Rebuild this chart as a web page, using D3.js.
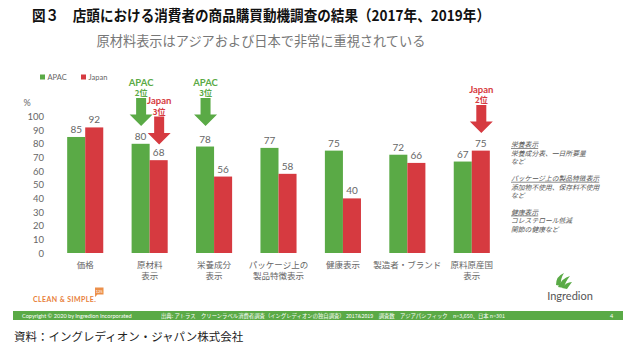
<!DOCTYPE html>
<html><head><meta charset="utf-8">
<script src="https://cdn.jsdelivr.net/npm/d3@7"></script>
<style>
body{margin:0;background:#fff;}
svg{display:block;font-family:"Noto Sans CJK JP","Noto Sans",sans-serif;}
</style></head>
<body>
<svg id="c" width="640" height="350"></svg>
<script>
const categories = ["価格", "原材料\n表示", "栄養成分\n表示", "パッケージ上の\n製品特徴表示", "健康表示", "製造者・ブランド", "原料原産国\n表示"];
const seriesNames = ["APAC", "Japan"];
const apac = [85, 80, 78, 77, 75, 72, 67];
const japan = [92, 68, 56, 58, 40, 66, 75];
const yTicks = [0, 10, 20, 30, 40, 50, 60, 70, 80, 90, 100];
const annotations = [
  {cat: 1, series: "APAC", l1: "APAC", l2: "2位"},
  {cat: 1, series: "Japan", l1: "Japan", l2: "3位"},
  {cat: 2, series: "APAC", l1: "APAC", l2: "3位"},
  {cat: 6, series: "Japan", l1: "Japan", l2: "2位"}
];
const notes = [
  ["栄養表示", "栄養成分表、一日所要量", "など"],
  ["パッケージ上の製品特徴表示", "添加物不使用、保存料不使用", "など"],
  ["健康表示", "コレステロール低減", "関節の健康など"]
];
const titleText = "図３　店頭における消費者の商品購買動機調査の結果（2017年、2019年）";
const subtitleText = "原材料表示はアジアおよび日本で非常に重視されている";
const sourceText = "資料：イングレディオン・ジャパン株式会社";
const footLeft = "Copyright © 2020 by Ingredion Incorporated";
const footMid = "出典: アトラス　クリーンラベル消費者調査（イングレディオンの独自調査） 2017&2019　調査数　アジアパシフィック　n=3,650、日本 n=301";

const GREEN = "#5aaa46", RED = "#d63a40", GREY = "#666";
const colors = {APAC: GREEN, Japan: RED};
const svg = d3.select("#c");

// titles
svg.append("text").attr("x", 32).attr("y", 21)
  .attr("font-size", 15).attr("font-weight", "bold").attr("fill", "#111")
  .attr("textLength", 458).attr("lengthAdjust", "spacingAndGlyphs").text(titleText);
svg.append("text").attr("x", 261).attr("y", 46).attr("text-anchor", "middle")
  .attr("font-size", 13.2).attr("fill", "#777").text(subtitleText);

const x0 = d3.scaleBand().domain(d3.range(categories.length)).range([53, 504]).paddingInner(0.44).paddingOuter(0.22);
const x1 = d3.scaleBand().domain(seriesNames).range([0, x0.bandwidth()]);
const y = d3.scaleLinear().domain([0, 100]).range([253, 116.5]);

// y axis
const yAxis = d3.axisLeft(y).tickValues(yTicks).tickSize(0).tickPadding(0);
const ga = svg.append("g").attr("transform", "translate(44,0)").call(yAxis);
ga.select(".domain").remove();
ga.selectAll("text").attr("font-family", "Lato, 'Noto Sans', sans-serif").attr("font-size", 9.5).attr("fill", GREY);
svg.append("text").attr("x", 27).attr("y", 106).attr("text-anchor", "middle")
  .attr("font-size", 9).attr("fill", GREY).attr("font-family", "Lato, sans-serif").text("%");

// bars
const data = categories.map((c, i) => ({i, vals: [{s: "APAC", v: apac[i]}, {s: "Japan", v: japan[i]}]}));
const g = svg.append("g");
const grp = g.selectAll("g.grp").data(data).join("g").attr("transform", d => `translate(${x0(d.i)},0)`);
grp.selectAll("rect").data(d => d.vals).join("rect")
  .attr("x", d => x1(d.s)).attr("width", x1.bandwidth())
  .attr("y", d => y(d.v)).attr("height", d => y(0) - y(d.v))
  .attr("fill", d => colors[d.s]);
grp.selectAll("text.val").data(d => d.vals).join("text").attr("class", "val")
  .attr("x", d => x1(d.s) + x1.bandwidth() / 2).attr("y", d => y(d.v) - 4)
  .attr("text-anchor", "middle").attr("font-size", 10).attr("fill", GREY)
  .attr("font-family", "Lato, 'Noto Sans', sans-serif").text(d => d.v);

// category labels
categories.forEach((c, i) => {
  const t = svg.append("text").attr("x", x0(i) + x0.bandwidth() / 2).attr("y", 268)
    .attr("text-anchor", "middle").attr("font-size", 8.5).attr("fill", GREY);
  c.split("\n").forEach((line, k) => t.append("tspan").attr("x", x0(i) + x0.bandwidth() / 2).attr("dy", k ? 10.5 : 0).text(line));
});

// legend
const lg = svg.append("g").attr("font-family", "Lato, 'Noto Sans', sans-serif");
seriesNames.forEach((s, k) => {
  const lx = 40 + k * 41;
  lg.append("rect").attr("x", lx).attr("y", 74.5).attr("width", 5).attr("height", 5).attr("fill", colors[s]);
  lg.append("text").attr("x", lx + 7.5).attr("y", 80).attr("font-size", 7.5).attr("fill", GREY).text(s);
});

// annotation arrows
const arrowTop = {"1-APAC": 98, "1-Japan": 116.5, "2-APAC": 98, "6-Japan": 105};
annotations.forEach(a => {
  const cx = x0(a.cat) + x1(a.series) + x1.bandwidth() / 2 + 0.5;
  const top = arrowTop[a.cat + "-" + a.series];
  const col = colors[a.series];
  const sh = 5, hw = 11.5, shaftLen = 16.5, headLen = 11.5;
  const pts = [[cx - sh, top], [cx + sh, top], [cx + sh, top + shaftLen], [cx + hw, top + shaftLen],
    [cx, top + shaftLen + headLen], [cx - hw, top + shaftLen], [cx - sh, top + shaftLen]];
  svg.append("path").attr("d", d3.line()(pts) + "Z").attr("fill", col);
  svg.append("text").attr("x", cx).attr("y", top - 12.5).attr("text-anchor", "middle")
    .attr("font-size", 9.5).attr("font-weight", "bold").attr("fill", col)
    .attr("font-family", "Lato, 'Noto Sans CJK JP', sans-serif").text(a.l1);
  svg.append("text").attr("x", cx).attr("y", top - 2).attr("text-anchor", "middle")
    .attr("font-size", 8).attr("font-weight", "bold").attr("fill", col).text(a.l2);
});

// notes (one multi-line text per block)
notes.forEach((blk, b) => {
  const t = svg.append("text").attr("x", 511).attr("y", 147 + b * 33.8)
    .attr("font-size", 6.8).attr("font-style", "italic").attr("fill", "#555");
  blk.forEach((line, k) => {
    const ts = t.append("tspan").attr("x", 511).attr("dy", k ? 8.7 : 0).text(line);
    if (k === 0) ts.attr("text-decoration", "underline");
  });
});

// CLEAN & SIMPLE logo
svg.append("text").attr("x", 33).attr("y", 302).attr("font-size", 7).attr("font-weight", "bold")
  .attr("fill", "#e8803a").attr("font-family", "Lato, sans-serif").attr("letter-spacing", 0.4).text("CLEAN & SIMPLE.");
svg.append("path").attr("d", "M95,287.5 h8.5 v7 h-6 l-2.5,2.5 z").attr("fill", "#ec8f4a");
svg.append("text").attr("x", 99.2).attr("y", 292.8).attr("font-size", 4).attr("text-anchor", "middle")
  .attr("fill", "#fff").attr("font-family", "Lato, sans-serif").text("125");

// Ingredion logo
const lgo = svg.append("g").attr("fill", "#5aaa46");
lgo.append("path").attr("d", "M556,285 Q556,276 564,273 Q560,279 561,286 Z");
lgo.append("path").attr("d", "M558,287 Q562,278 570,276 Q565,282 564,288 Z");
lgo.append("path").attr("d", "M562,288 Q566,282 572,282 Q569,286 567,289 Z");
svg.append("text").attr("x", 570).attr("y", 300).attr("text-anchor", "middle").attr("font-size", 11)
  .attr("fill", "#555").attr("font-family", "Lato, 'Open Sans', sans-serif").text("Ingredion");

// footer bar
svg.append("rect").attr("x", 13).attr("y", 311).attr("width", 610).attr("height", 9).attr("fill", "#5aaa46");
svg.append("text").attr("x", 22).attr("y", 318).attr("font-size", 5.6).attr("fill", "#fff")
  .attr("font-family", "Lato, sans-serif").text(footLeft);
svg.append("text").attr("x", 161).attr("y", 318).attr("font-size", 5.2).attr("fill", "#fff")
  .attr("textLength", 344).attr("lengthAdjust", "spacingAndGlyphs").text(footMid);
svg.append("text").attr("x", 610).attr("y", 318).attr("font-size", 5.5).attr("fill", "#fff")
  .attr("font-family", "Lato, sans-serif").text("4");

// source
svg.append("text").attr("x", 14).attr("y", 341).attr("font-size", 11.5).attr("fill", "#222").text(sourceText);
</script>
</body></html>
